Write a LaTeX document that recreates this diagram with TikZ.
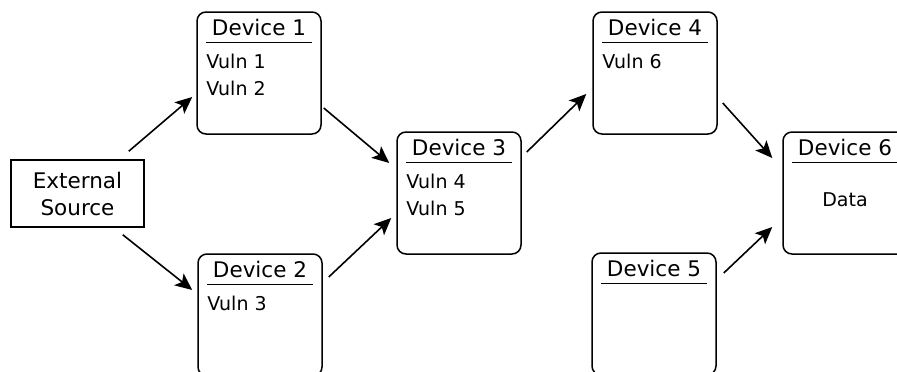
\documentclass[tikz,border=0pt]{standalone}
\usepackage{fontspec}
\setmainfont{DejaVu Sans}
\usetikzlibrary{arrows.meta}

\begin{document}
\begin{tikzpicture}[x=1pt,y=-1pt,
  device/.style={draw,line width=1.5pt,rounded corners=9pt,minimum width=124pt,minimum height=122pt,inner sep=0pt},
  source/.style={draw,line width=1.5pt,minimum width=133pt,minimum height=67pt,align=center,font=\fontsize{21.5}{27}\selectfont},
  devtitle/.style={anchor=base,inner sep=0pt,font=\fontsize{21.5}{25}\selectfont},
  vuln/.style={anchor=base west,inner sep=0pt,font=\fontsize{19}{22}\selectfont},
  rule/.style={line width=1.3pt},
  flow/.style={line width=1.6pt,-{Stealth[length=17pt,width=15pt,inset=4pt]}}]
\clip (0,0) rectangle (897,372);

\node[source] (ext) at (77.5,193.5) {External\\Source};

\node[device] (dev1) at (259,73) {};
\node[device] (dev2) at (260,315) {};
\node[device] (dev3) at (459,193) {};
\node[device] (dev4) at (655,73) {};
\node[device] (dev5) at (654,314) {};
\node[device] (dev6) at (845,193) {};

% titles and header lines
\node[devtitle] (dev1t) at ([shift={(0,24)}]dev1.north) {Device 1};
\node[devtitle] (dev2t) at ([shift={(0,24)}]dev2.north) {Device 2};
\node[devtitle] (dev3t) at ([shift={(0,24)}]dev3.north) {Device 3};
\node[devtitle] (dev4t) at ([shift={(0,24)}]dev4.north) {Device 4};
\node[devtitle] (dev5t) at ([shift={(0,24)}]dev5.north) {Device 5};
\node[devtitle] (dev6t) at ([shift={(0,24)}]dev6.north) {Device 6};
\draw[rule] ([shift={(10,31)}]dev1.north west) -- ([shift={(-10,31)}]dev1.north east);
\draw[rule] ([shift={(10,31)}]dev2.north west) -- ([shift={(-10,31)}]dev2.north east);
\draw[rule] ([shift={(10,31)}]dev3.north west) -- ([shift={(-10,31)}]dev3.north east);
\draw[rule] ([shift={(10,31)}]dev4.north west) -- ([shift={(-10,31)}]dev4.north east);
\draw[rule] ([shift={(10,31)}]dev5.north west) -- ([shift={(-10,31)}]dev5.north east);
\draw[rule] ([shift={(10,31)}]dev6.north west) -- ([shift={(-10,31)}]dev6.north east);

% contents
\node[vuln] (v1) at ([shift={(10,57)}]dev1.north west) {Vuln 1};
\node[vuln] (v2) at ([shift={(10,84)}]dev1.north west) {Vuln 2};
\node[vuln] (v3) at ([shift={(10,57)}]dev2.north west) {Vuln 3};
\node[vuln] (v4) at ([shift={(10,57)}]dev3.north west) {Vuln 4};
\node[vuln] (v5) at ([shift={(10,84)}]dev3.north west) {Vuln 5};
\node[vuln] (v6) at ([shift={(10,57)}]dev4.north west) {Vuln 6};
\node[vuln,anchor=base] (data) at ([shift={(0,75)}]dev6.north) {Data};

% flows
\draw[flow] ([shift={(-16,-8)}]ext.north east) -- ([shift={(-4,24)}]dev1.west);
\draw[flow] ([shift={(-22,7)}]ext.south east) -- ([shift={(-5,-25)}]dev2.west);
\draw[flow] ([shift={(2,35)}]dev1.east) -- ([shift={(-7,-30)}]dev3.west);
\draw[flow] ([shift={(6,-38)}]dev2.east) -- ([shift={(-5,25)}]dev3.west);
\draw[flow] ([shift={(5,-41)}]dev3.east) -- ([shift={(-6,21)}]dev4.west);
\draw[flow] ([shift={(5,30)}]dev4.east) -- ([shift={(-10,-35)}]dev6.west);
\draw[flow] ([shift={(7,-41)}]dev5.east) -- ([shift={(-10,34)}]dev6.west);
\end{tikzpicture}
\end{document}
